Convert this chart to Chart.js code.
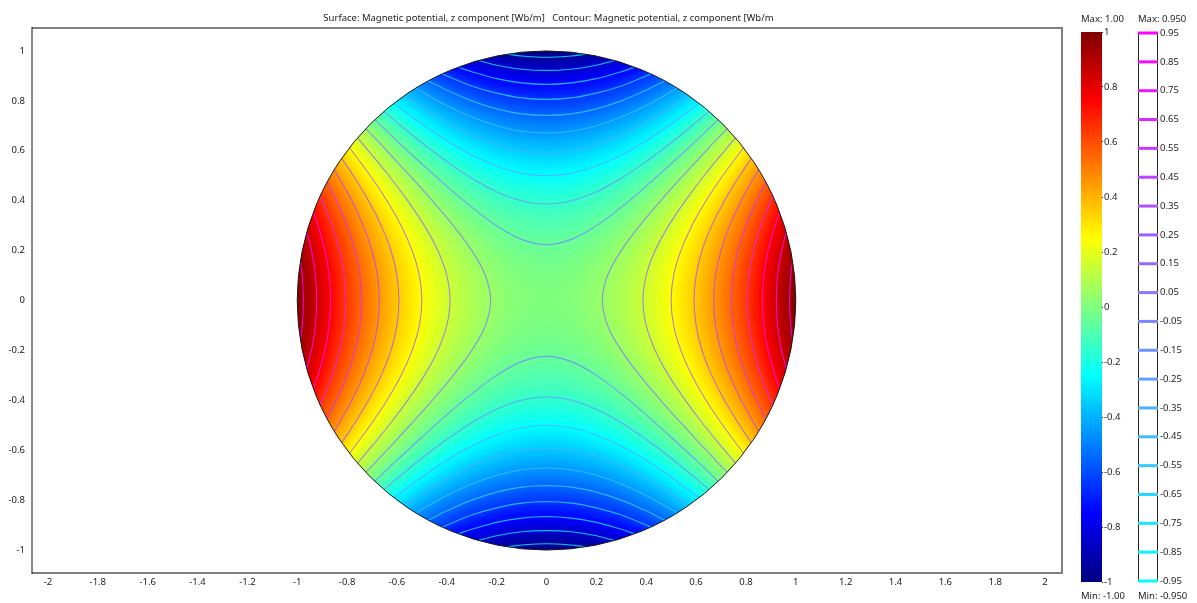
<!DOCTYPE html>
<html>
<head>
<meta charset="utf-8">
<title>Magnetic potential</title>
<script src="https://cdn.jsdelivr.net/npm/chart.js@4/dist/chart.umd.js"></script>
<style>
  html, body { margin: 0; padding: 0; background: #fff; overflow: hidden; }
  canvas { position: absolute; top: 0; filter: blur(0.4px); }
</style>
</head>
<body>
<canvas id="plot" width="1075" height="603" style="left:0"></canvas>
<canvas id="surfaceBar" width="60" height="603" style="left:1075px"></canvas>
<canvas id="contourBar" width="67" height="603" style="left:1130px"></canvas>
<script>
// Axis ticks
const xTicks = [-2, -1.8, -1.6, -1.4, -1.2, -1, -0.8, -0.6, -0.4, -0.2, 0, 0.2, 0.4, 0.6, 0.8, 1, 1.2, 1.4, 1.6, 1.8, 2];
const yTicks = [-1, -0.8, -0.6, -0.4, -0.2, 0, 0.2, 0.4, 0.6, 0.8, 1];
const surfaceBarTicks = [-1, -0.8, -0.6, -0.4, -0.2, 0, 0.2, 0.4, 0.6, 0.8, 1];

const titleText = 'Surface: Magnetic potential, z component [Wb/m]   Contour: Magnetic potential, z component [Wb/m';

// Surface value grid, rows from y = 1 down to y = -1, columns from x = -1 to x = 1
const gridX = [-1, -0.9, -0.8, -0.7, -0.6, -0.5, -0.4, -0.3, -0.2, -0.1, 0, 0.1, 0.2, 0.3, 0.4, 0.5, 0.6, 0.7, 0.8, 0.9, 1];
const gridY = [1, 0.9, 0.8, 0.7, 0.6, 0.5, 0.4, 0.3, 0.2, 0.1, 0, -0.1, -0.2, -0.3, -0.4, -0.5, -0.6, -0.7, -0.8, -0.9, -1];
const surfaceValues = [
  [0, -.19, -.36, -.51, -.64, -.75, -.84, -.91, -.96, -.99, -1, -.99, -.96, -.91, -.84, -.75, -.64, -.51, -.36, -.19, 0],
  [.19, 0, -.17, -.32, -.45, -.56, -.65, -.72, -.77, -.8, -.81, -.8, -.77, -.72, -.65, -.56, -.45, -.32, -.17, 0, .19],
  [.36, .17, 0, -.15, -.28, -.39, -.48, -.55, -.6, -.63, -.64, -.63, -.6, -.55, -.48, -.39, -.28, -.15, 0, .17, .36],
  [.51, .32, .15, 0, -.13, -.24, -.33, -.4, -.45, -.48, -.49, -.48, -.45, -.4, -.33, -.24, -.13, 0, .15, .32, .51],
  [.64, .45, .28, .13, 0, -.11, -.2, -.27, -.32, -.35, -.36, -.35, -.32, -.27, -.2, -.11, 0, .13, .28, .45, .64],
  [.75, .56, .39, .24, .11, 0, -.09, -.16, -.21, -.24, -.25, -.24, -.21, -.16, -.09, 0, .11, .24, .39, .56, .75],
  [.84, .65, .48, .33, .2, .09, 0, -.07, -.12, -.15, -.16, -.15, -.12, -.07, 0, .09, .2, .33, .48, .65, .84],
  [.91, .72, .55, .4, .27, .16, .07, 0, -.05, -.08, -.09, -.08, -.05, 0, .07, .16, .27, .4, .55, .72, .91],
  [.96, .77, .6, .45, .32, .21, .12, .05, 0, -.03, -.04, -.03, 0, .05, .12, .21, .32, .45, .6, .77, .96],
  [.99, .8, .63, .48, .35, .24, .15, .08, .03, 0, -.01, 0, .03, .08, .15, .24, .35, .48, .63, .8, .99],
  [1, .81, .64, .49, .36, .25, .16, .09, .04, .01, 0, .01, .04, .09, .16, .25, .36, .49, .64, .81, 1],
  [.99, .8, .63, .48, .35, .24, .15, .08, .03, 0, -.01, 0, .03, .08, .15, .24, .35, .48, .63, .8, .99],
  [.96, .77, .6, .45, .32, .21, .12, .05, 0, -.03, -.04, -.03, 0, .05, .12, .21, .32, .45, .6, .77, .96],
  [.91, .72, .55, .4, .27, .16, .07, 0, -.05, -.08, -.09, -.08, -.05, 0, .07, .16, .27, .4, .55, .72, .91],
  [.84, .65, .48, .33, .2, .09, 0, -.07, -.12, -.15, -.16, -.15, -.12, -.07, 0, .09, .2, .33, .48, .65, .84],
  [.75, .56, .39, .24, .11, 0, -.09, -.16, -.21, -.24, -.25, -.24, -.21, -.16, -.09, 0, .11, .24, .39, .56, .75],
  [.64, .45, .28, .13, 0, -.11, -.2, -.27, -.32, -.35, -.36, -.35, -.32, -.27, -.2, -.11, 0, .13, .28, .45, .64],
  [.51, .32, .15, 0, -.13, -.24, -.33, -.4, -.45, -.48, -.49, -.48, -.45, -.4, -.33, -.24, -.13, 0, .15, .32, .51],
  [.36, .17, 0, -.15, -.28, -.39, -.48, -.55, -.6, -.63, -.64, -.63, -.6, -.55, -.48, -.39, -.28, -.15, 0, .17, .36],
  [.19, 0, -.17, -.32, -.45, -.56, -.65, -.72, -.77, -.8, -.81, -.8, -.77, -.72, -.65, -.56, -.45, -.32, -.17, 0, .19],
  [0, -.19, -.36, -.51, -.64, -.75, -.84, -.91, -.96, -.99, -1, -.99, -.96, -.91, -.84, -.75, -.64, -.51, -.36, -.19, 0]
];

// Contour levels, all of them are drawn in the legend
const contourLevels = [0.95, 0.85, 0.75, 0.65, 0.55, 0.45, 0.35, 0.25, 0.15, 0.05,
  -0.05, -0.15, -0.25, -0.35, -0.45, -0.55, -0.65, -0.75, -0.85, -0.95];

const armLevels = [0.05, 0.15, 0.25, 0.35, 0.45, 0.55, 0.65, 0.75, 0.85, 0.95];
const armAcross = [
  [.224, .245, .3, .374, .458, .548, .64, .725],
  [.387, .4, .436, .49, .557, .632, .714, .758],
  [.5, .51, .539, .583, .64, .707, .79],
  [.592, .6, .624, .663, .714, .775, .822],
  [.671, .678, .7, .735, .781, .851],
  [.742, .748, .768, .8, .843, .88],
  [.806, .812, .831, .86, .908],
  [.866, .872, .889, .917, .935],
  [.922, .927, .943, .962],
  [.975, .98, .987]
];
const armAlong = [
  [0, .1, .2, .3, .4, .5, .6, .689],
  [0, .1, .2, .3, .4, .5, .6, .652],
  [0, .1, .2, .3, .4, .5, .612],
  [0, .1, .2, .3, .4, .5, .57],
  [0, .1, .2, .3, .4, .524],
  [0, .1, .2, .3, .4, .474],
  [0, .1, .2, .3, .418],
  [0, .1, .2, .3, .354],
  [0, .1, .2, .274],
  [0, .1, .158]
];

// Rainbow colour table of the surface: position on the -1..1 range and rgb
const jetPositions = [-1, -0.75, -0.25, 0.25, 0.75, 1];
const jetColours = [[0, 0, 128], [0, 0, 255], [0, 255, 255], [255, 255, 0], [255, 0, 0], [128, 0, 0]];

const fontFamily = '"Noto Sans", sans-serif';
const tickFont = { family: fontFamily, size: 9.5 };
const textColour = '#222';

// Colour of a surface value
function jetColour(v) {
  let i = 0;
  while (i < jetPositions.length - 2 && v > jetPositions[i + 1]) i++;
  let t = (v - jetPositions[i]) / (jetPositions[i + 1] - jetPositions[i]);
  t = Math.max(0, Math.min(1, t));
  return jetColours[i].map((c, k) => c + (jetColours[i + 1][k] - c) * t);
}

// Contour colour runs from cyan at the lowest level to magenta at the highest
function contourColour(level, alpha) {
  const r = Math.round(255 * (level + 0.95) / 1.9);
  return 'rgba(' + r + ',' + (255 - r) + ',255,' + alpha + ')';
}

// Catmull-Rom through four neighbours, so the painted surface has no visible grid seams
function smooth(a, b, c, d, t) {
  return b + 0.5 * t * (c - a + t * (2 * a - 5 * b + 4 * c - d + t * (3 * b - a - 3 * c + d)));
}

// Grid value, with the rows and columns just outside the table continued from the edge
function gridValue(i, j) {
  if (j < 0) return 3 * gridValue(i, 0) - 3 * gridValue(i, 1) + gridValue(i, 2);
  if (j >= gridY.length) return 3 * gridValue(i, gridY.length - 1) - 3 * gridValue(i, gridY.length - 2) + gridValue(i, gridY.length - 3);
  if (i < 0) return 3 * gridValue(0, j) - 3 * gridValue(1, j) + gridValue(2, j);
  if (i >= gridX.length) return 3 * gridValue(gridX.length - 1, j) - 3 * gridValue(gridX.length - 2, j) + gridValue(gridX.length - 3, j);
  return surfaceValues[j][i];
}

// Sample the value grid at a plot position
function surfaceValueAt(x, y) {
  const fx = Math.max(0, Math.min(gridX.length - 1.001, (x - gridX[0]) / (gridX[1] - gridX[0])));
  const fy = Math.max(0, Math.min(gridY.length - 1.001, (y - gridY[0]) / (gridY[1] - gridY[0])));
  const i = Math.floor(fx), j = Math.floor(fy);
  const rows = [-1, 0, 1, 2].map(dj => smooth(gridValue(i - 1, j + dj), gridValue(i, j + dj), gridValue(i + 1, j + dj), gridValue(i + 2, j + dj), fx - i));
  return smooth(rows[0], rows[1], rows[2], rows[3], fy - j);
}

// Path of the unit disk in pixels
function diskPath(chart) {
  const sx = chart.scales.x, sy = chart.scales.y;
  const ctx = chart.ctx;
  ctx.beginPath();
  ctx.ellipse(sx.getPixelForValue(0), sy.getPixelForValue(0),
    sx.getPixelForValue(1) - sx.getPixelForValue(0),
    sy.getPixelForValue(0) - sy.getPixelForValue(1), 0, 0, Math.PI * 2);
}

// Paints the value grid under the contours and the disk edge over them
const surfacePlugin = {
  id: 'surface',
  beforeDatasetsDraw(chart) {
    const sx = chart.scales.x, sy = chart.scales.y;
    const left = Math.floor(sx.getPixelForValue(-1)) - 1;
    const top = Math.floor(sy.getPixelForValue(1)) - 1;
    const w = Math.ceil(sx.getPixelForValue(1)) + 1 - left;
    const h = Math.ceil(sy.getPixelForValue(-1)) + 1 - top;
    const off = document.createElement('canvas');
    off.width = w;
    off.height = h;
    const offCtx = off.getContext('2d');
    const img = offCtx.createImageData(w, h);
    for (let py = 0; py < h; py++) {
      const y = sy.getValueForPixel(top + py + 0.5);
      for (let px = 0; px < w; px++) {
        const x = sx.getValueForPixel(left + px + 0.5);
        const c = jetColour(surfaceValueAt(x, y));
        const n = (py * w + px) * 4;
        img.data[n] = c[0];
        img.data[n + 1] = c[1];
        img.data[n + 2] = c[2];
        img.data[n + 3] = 255;
      }
    }
    offCtx.putImageData(img, 0, 0);
    const ctx = chart.ctx;
    ctx.save();
    diskPath(chart);
    ctx.clip();
    ctx.drawImage(off, left, top);
    ctx.restore();
  },
  afterDatasetsDraw(chart) {
    const ctx = chart.ctx;
    ctx.save();
    diskPath(chart);
    ctx.strokeStyle = '#1a1a1a';
    ctx.lineWidth = 1;
    ctx.stroke();
    ctx.restore();
  }
};

// Plot frame and title: thin dark left edge, heavier grey on the other sides
const framePlugin = {
  id: 'frame',
  afterDraw(chart) {
    const a = chart.chartArea, ctx = chart.ctx;
    ctx.save();
    ctx.strokeStyle = '#808080';
    ctx.lineWidth = 2;
    ctx.beginPath();
    ctx.moveTo(a.left, a.top);
    ctx.lineTo(a.right, a.top);
    ctx.lineTo(a.right, a.bottom);
    ctx.lineTo(a.left, a.bottom);
    ctx.stroke();
    ctx.strokeStyle = '#111';
    ctx.lineWidth = 1;
    ctx.beginPath();
    ctx.moveTo(a.left, a.top - 1);
    ctx.lineTo(a.left, a.bottom + 1);
    ctx.stroke();
    ctx.font = '9.5px ' + fontFamily;
    ctx.fillStyle = textColour;
    ctx.textAlign = 'center';
    ctx.textBaseline = 'middle';
    ctx.fillText(titleText, 548.5, 18);
    ctx.restore();
  }
};

// Max and min captions of a legend bar
function captionPlugin(maxText, minText) {
  return {
    id: 'caption',
    afterDraw(chart) {
      const a = chart.chartArea, ctx = chart.ctx;
      ctx.save();
      ctx.font = '9.5px ' + fontFamily;
      ctx.fillStyle = textColour;
      ctx.textBaseline = 'middle';
      ctx.textAlign = 'left';
      ctx.fillText(maxText, a.left, 19);
      ctx.fillText(minText, a.left, 596);
      ctx.restore();
    }
  };
}

// Dark outline round a legend bar, under the level marks
const barOutlinePlugin = {
  id: 'barOutline',
  beforeDatasetsDraw(chart) {
    const a = chart.chartArea, ctx = chart.ctx;
    ctx.save();
    ctx.strokeStyle = '#222';
    ctx.lineWidth = 1;
    ctx.strokeRect(a.left + 0.5, a.top + 0.5, a.right - a.left - 1, a.bottom - a.top - 1);
    ctx.restore();
  }
};

// Build all contour arms, the positive levels open sideways and the negative ones up and down
function buildContourDatasets() {
  const datasets = [];
  armLevels.forEach((level, n) => {
    const across = armAcross[n], along = armAlong[n];
    const half = along.map((a, k) => [a, across[k]]);
    const arm = half.slice(1).reverse().map(p => [-p[0], p[1]]).concat(half);
    [1, -1].forEach(side => {
      datasets.push(contourDataset(level, arm.map(p => ({ x: side * p[1], y: p[0] }))));
      datasets.push(contourDataset(-level, arm.map(p => ({ x: p[0], y: side * p[1] }))));
    });
  });
  return datasets;
}

function contourDataset(level, points) {
  return {
    label: String(level),
    data: points,
    showLine: true,
    borderColor: contourColour(level, 0.8),
    borderWidth: 1.1,
    pointRadius: 0,
    tension: 0.4,
    clip: false
  };
}

const plainPlugins = { legend: { display: false }, tooltip: { enabled: false } };

// Main plot
new Chart(document.getElementById('plot'), {
  type: 'scatter',
  data: { datasets: buildContourDatasets() },
  plugins: [surfacePlugin, framePlugin],
  options: {
    responsive: false,
    animation: false,
    layout: { padding: { left: 0, right: 13, top: 28, bottom: 0 } },
    plugins: plainPlugins,
    scales: {
      x: {
        type: 'linear',
        min: -2.064,
        max: 2.068,
        afterBuildTicks: s => { s.ticks = xTicks.map(v => ({ value: v })); },
        afterFit: s => { s.height = 30; },
        grid: { display: false, drawTicks: false },
        border: { display: false },
        ticks: { font: tickFont, color: textColour, padding: 4, maxRotation: 0, autoSkip: false, callback: v => String(v) }
      },
      y: {
        type: 'linear',
        min: -1.092,
        max: 1.092,
        afterBuildTicks: s => { s.ticks = yTicks.map(v => ({ value: v })); },
        afterFit: s => { s.width = 32; },
        grid: { display: false, drawTicks: false },
        border: { display: false },
        ticks: { font: tickFont, color: textColour, padding: 7, autoSkip: false, callback: v => String(v) }
      }
    }
  }
});

// Legend bar of the surface colours
new Chart(document.getElementById('surfaceBar'), {
  type: 'bar',
  data: {
    labels: ['surface'],
    datasets: [{
      data: [[-1, 1]],
      categoryPercentage: 1,
      barPercentage: 1,
      backgroundColor(c) {
        const chart = c.chart;
        if (!chart.chartArea) return '#000';
        const sy = chart.scales.y;
        const g = chart.ctx.createLinearGradient(0, sy.getPixelForValue(-1), 0, sy.getPixelForValue(1));
        jetPositions.forEach((p, i) => {
          g.addColorStop((p + 1) / 2, 'rgb(' + jetColours[i].join(',') + ')');
        });
        return g;
      }
    }]
  },
  plugins: [captionPlugin('Max: 1.00', 'Min: -1.00')],
  options: {
    responsive: false,
    animation: false,
    layout: { padding: { left: 6, right: 0, top: 32, bottom: 21 } },
    plugins: plainPlugins,
    scales: {
      x: { display: false },
      y: {
        position: 'right',
        min: -1,
        max: 1,
        afterBuildTicks: s => { s.ticks = surfaceBarTicks.map(v => ({ value: v })); },
        afterFit: s => { s.width = 33; },
        grid: { drawOnChartArea: false, tickLength: 1, tickColor: '#222' },
        border: { display: false },
        ticks: { font: tickFont, color: textColour, padding: 1, autoSkip: false, callback: v => String(v) }
      }
    }
  }
});

// Legend bar of the contour levels
new Chart(document.getElementById('contourBar'), {
  type: 'scatter',
  data: {
    datasets: contourLevels.map(level => ({
      data: [{ x: 0, y: level }, { x: 1, y: level }],
      showLine: true,
      borderColor: contourColour(level, 1),
      borderWidth: 3,
      pointRadius: 0,
      clip: false
    }))
  },
  plugins: [barOutlinePlugin, captionPlugin('Max: 0.950', 'Min: -0.950')],
  options: {
    responsive: false,
    animation: false,
    layout: { padding: { left: 8, right: 0, top: 32, bottom: 21 } },
    plugins: plainPlugins,
    scales: {
      x: { type: 'linear', min: 0, max: 1, display: false },
      y: {
        type: 'linear',
        position: 'right',
        min: -0.9535,
        max: 0.9535,
        afterBuildTicks: s => { s.ticks = contourLevels.map(v => ({ value: v })); },
        afterFit: s => { s.width = 39; },
        grid: { display: false, drawTicks: false },
        border: { display: false },
        ticks: { font: tickFont, color: textColour, padding: 2, autoSkip: false, callback: v => v.toFixed(2) }
      }
    }
  }
});
</script>
</body>
</html>
